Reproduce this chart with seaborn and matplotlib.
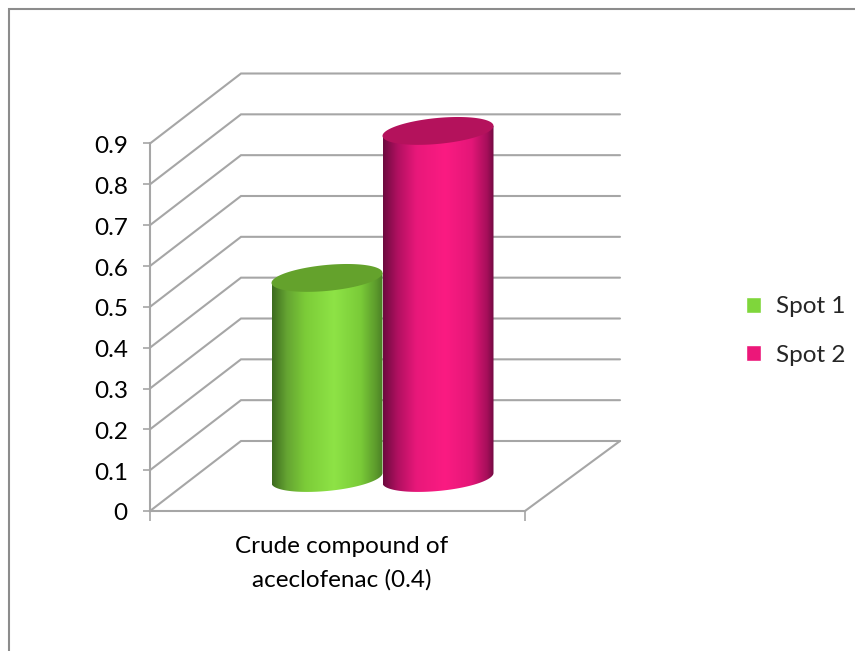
import numpy as np
import pandas as pd
import matplotlib
matplotlib.use("Agg")
import matplotlib.pyplot as plt
from matplotlib.colors import LinearSegmentedColormap
from matplotlib.patches import PathPatch, Rectangle
from matplotlib.path import Path
from matplotlib.transforms import ScaledTranslation
import seaborn as sns

categories = ["Crude compound of\naceclofenac (0.4)"]
series_names = ["Spot 1", "Spot 2"]
spot_values = [0.49, 0.85]
y_ticks = [0, 0.1, 0.2, 0.3, 0.4, 0.5, 0.6, 0.7, 0.8, 0.9]
y_tick_labels = ["0", "0.1", "0.2", "0.3", "0.4", "0.5", "0.6", "0.7", "0.8", "0.9"]
swatch_colors = ["#7fd63b", "#ec1779"]
cap_colors = ["#64a22c", "#b4125c"]
green_stops = ["#3d6b1f", "#64a332", "#7ccc38", "#8ee346", "#7acb38", "#5c9a2c", "#4b7f25"]
magenta_stops = ["#6d0a3f", "#b01060", "#e8187a", "#fb1b82", "#e41678", "#a60f5a", "#730a42"]
stop_positions = [0, 0.13, 0.3, 0.56, 0.8, 0.94, 1]

GRID = "#a6a6a6"
W, H = 855, 651
FONT = 17.5

# Oblique projection, expressed in data units of the front plane
PX_X = 375.0
PX_Y = 367.5 / 0.9
WALL_DX, WALL_DY = 91 / PX_X, 70 / PX_Y
RIGHT_DX = 95 / PX_X
BAR_DX, BAR_DY = 45 / PX_X, 33 / PX_Y
CAP_MINOR, CAP_SKEW = 13 / PX_Y, 5 / PX_Y

sns.set_theme(style="white")
plt.rcParams["font.family"] = ["Lato", "DejaVu Sans"]

fig = plt.figure(figsize=(W / 100, H / 100), dpi=100)
ax = fig.add_axes([150 / W, 1 - 511 / H, 375 / W, 367.5 / H])

frame = pd.DataFrame({
    "category": categories * len(series_names),
    "spot": series_names,
    "value": spot_values,
})
sns.barplot(data=frame, x="category", y="value", hue="spot", saturation=1,
            palette=swatch_colors, width=0.592, gap=0, ax=ax)

ax.set_xlim(-0.5, 0.5)
ax.set_ylim(0, 0.9)
ax.set_xlabel("")
ax.set_ylabel("")

# Side wall and back wall gridlines
back_left = -0.5 + WALL_DX
back_right = 0.5 + RIGHT_DX
for v in y_ticks:
    ax.plot([-0.5, back_left, back_right], [v, v + WALL_DY, v + WALL_DY],
            color=GRID, lw=1.5, clip_on=False, zorder=1, solid_joinstyle="miter")
# Right edge of the floor
ax.plot([0.5, back_right], [0, WALL_DY], color=GRID, lw=1.5, clip_on=False, zorder=1)


def cylinder(bar, ramp, cap_color, order):
    """Replace a flat bar with a shaded cylinder standing at mid depth."""
    bar.set_visible(False)
    left = bar.get_x() + BAR_DX
    right = left + bar.get_width()
    cx, hw = (left + right) / 2, (right - left) / 2
    base = BAR_DY
    top = bar.get_height() + BAR_DY

    t = np.linspace(np.pi, 2 * np.pi, 80)
    arc_x = cx + hw * np.cos(t)
    arc_y = base + CAP_SKEW * np.cos(t) + CAP_MINOR * np.sin(t)
    verts = np.column_stack([
        np.r_[left, arc_x, right],
        np.r_[top - CAP_SKEW, arc_y, top + CAP_SKEW],
    ])
    body = PathPatch(Path(verts), transform=ax.transData, fc="none", ec="none")
    ax.add_patch(body)
    body.set_clip_on(False)

    cmap = LinearSegmentedColormap.from_list("shade", list(zip(stop_positions, ramp)))
    im = ax.imshow(np.linspace(0, 1, 256)[None, :], cmap=cmap, aspect="auto",
                   extent=(left, right, base - 2 * CAP_MINOR, top + 2 * CAP_MINOR),
                   zorder=order, interpolation="bilinear")
    im.set_clip_path(body)
    im.set_clip_box(fig.bbox)

    t = np.linspace(0, 2 * np.pi, 160)
    cap = np.column_stack([cx + hw * np.cos(t),
                           top + CAP_SKEW * np.cos(t) + CAP_MINOR * np.sin(t)])
    ax.add_patch(PathPatch(Path(cap), fc=cap_color, ec="none",
                           zorder=order + 0.1, clip_on=False))


bars = [p for c in ax.containers for p in c]
cylinder(bars[0], green_stops, cap_colors[0], 3)
cylinder(bars[1], magenta_stops, cap_colors[1], 4)
ax.set_xlim(-0.5, 0.5)
ax.set_ylim(0, 0.9)

# Axes, ticks and labels
sns.despine(ax=ax)
for side in ("left", "bottom"):
    ax.spines[side].set_color(GRID)
    ax.spines[side].set_linewidth(1.5)
ax.set_yticks(y_ticks, y_tick_labels)
ax.set_xticks([-0.5, 0.5], ["", ""])
ax.set_xticks([0.01], categories, minor=True)
ax.tick_params(axis="y", left=True, length=5, width=1.2, color=GRID, pad=11,
               labelsize=FONT, labelcolor="black")
ax.tick_params(axis="x", which="major", bottom=True, length=7, width=1.2, color=GRID)
ax.tick_params(axis="x", which="minor", bottom=False, length=0, pad=18,
               labelsize=FONT, labelcolor="black")
for label in ax.get_xticklabels(minor=True):
    label.set_linespacing(1.7)
# Nudge the value labels so their digits sit level with the ticks
nudge = ScaledTranslation(0, -1 / 100, fig.dpi_scale_trans)
for label in ax.get_yticklabels():
    label.set_transform(label.get_transform() + nudge)

sns.move_legend(ax, loc="center left", bbox_to_anchor=(746 / W, 1 - 331 / H),
                bbox_transform=fig.transFigure, title=None, frameon=False,
                fontsize=FONT, handlelength=0.62, handleheight=0.62,
                handletextpad=0.62, labelspacing=1.13, borderpad=0, borderaxespad=0)

# Chart-area outline
fig.add_artist(Rectangle((9 / W, -0.02), 1.02, 1 - 9 / H + 0.02, transform=fig.transFigure,
                         fc="none", ec="#8c8c8c", lw=1.5))

fig.savefig("out.png", dpi=100, facecolor="white")
